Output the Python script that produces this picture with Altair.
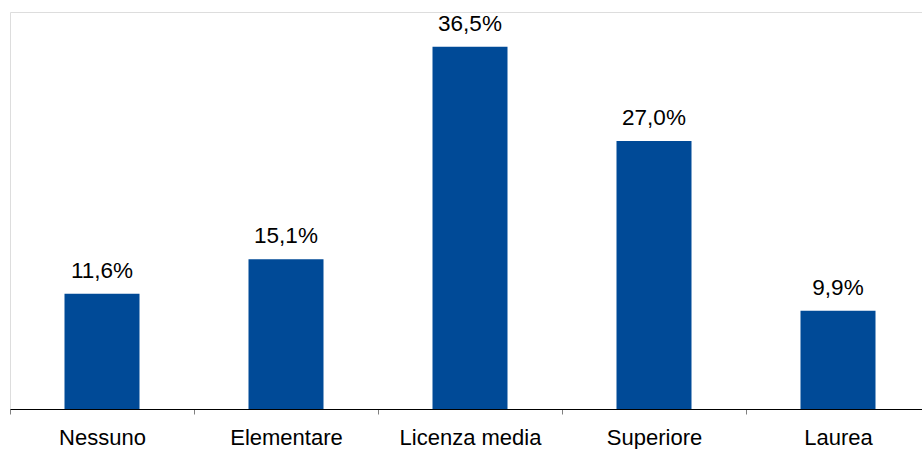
import altair as alt
import pandas as pd

categories = ["Nessuno", "Elementare", "Licenza media", "Superiore", "Laurea"]
values = [11.6, 15.1, 36.5, 27.0, 9.9]
labels = ["11,6%", "15,1%", "36,5%", "27,0%", "9,9%"]

df = pd.DataFrame({"cat": categories, "val": values, "lab": labels})

FONT = "Liberation Sans"
BLUE = "#004A97"

x = alt.X(
    "cat:N",
    sort=categories,
    scale=alt.Scale(range=[0, 920], paddingInner=0, paddingOuter=0),
    axis=alt.Axis(
        title=None,
        labelAngle=0,
        labelFont=FONT,
        labelFontSize=22,
        labelColor="#000000",
        labelBaseline="alphabetic",
        labelPadding=30,
        tickBand="extent",
        tickSize=5,
        tickColor="#808080",
        domainColor="#000000",
        domainWidth=1,
        grid=False,
    ),
)
y = alt.Y(
    "val:Q",
    scale=alt.Scale(domain=[0, 40], nice=False),
    axis=None,
)

bars = alt.Chart(df).mark_bar(color=BLUE, size=75).encode(x=x, y=y)
text = alt.Chart(df).mark_text(
    font=FONT, fontSize=22.5, color="#000000", baseline="alphabetic", dy=-16
).encode(x=x, y=y, text="lab:N")

chart = (
    alt.layer(bars, text)
    .properties(
        width=912,
        height=397,
        padding={"left": 10, "top": 12, "right": 0, "bottom": 40},
        autosize=alt.AutoSizeParams(type="none"),
    )
    .configure_view(stroke="transparent", strokeWidth=0)
    .configure(background="white")
)

chart.save("out.html", embed_options={"renderer": "svg", "actions": False})
